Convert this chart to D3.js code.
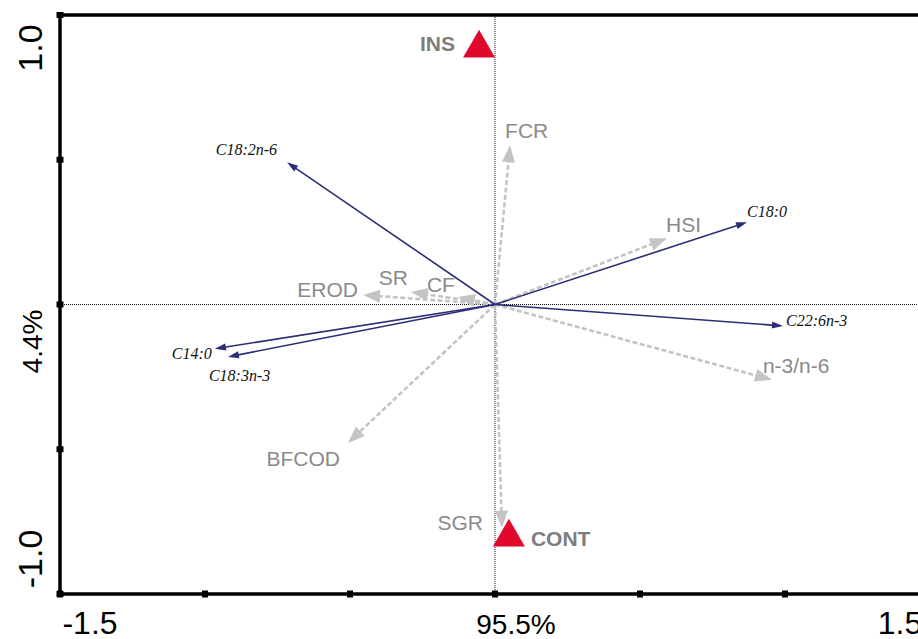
<!DOCTYPE html>
<html>
<head>
<meta charset="utf-8">
<script src="https://cdn.jsdelivr.net/npm/d3@7"></script>
<style>
  html, body { margin: 0; padding: 0; background: #fff; }
  svg { display: block; }
</style>
</head>
<body>
<svg id="chart" width="918" height="639"></svg>
<script>
// ---------------- DATA ----------------
// Fatty acid vectors (solid navy arrows)
const fattyNames = ["C18:2n-6", "C18:0", "C22:6n-3", "C14:0", "C18:3n-3"];
const fattyX     = [-0.717, 0.869, 0.993, -0.966, -0.921];
const fattyY     = [ 0.491, 0.284, -0.074, -0.153, -0.181];

// Response variables (dashed grey arrows)
const respNames = ["FCR", "HSI", "n-3/n-6", "EROD", "SR", "CF", "BFCOD", "SGR"];
const respX     = [0.052, 0.593, 0.955, -0.455, -0.290, -0.128, -0.507, 0.024];
const respY     = [0.550, 0.229, -0.260, 0.033, 0.043, 0.026, -0.478, -0.771];

// Treatments (red triangles)
const treatNames = ["INS", "CONT"];
const treatX     = [-0.055, 0.048];
const treatY     = [ 0.885, -0.804];

// Axes
const xDomain = [-1.5, 1.5];
const yDomain = [-1.0, 1.0];
const xTickValues = [-1.5, -1.0, -0.5, 0, 0.5, 1.0, 1.5];
const yTickValues = [-1.0, -0.5, 0, 0.5, 1.0];
const xLabelValues = [-1.5, 0, 1.5];
const xLabelTexts  = ["-1.5", "95.5%", "1.5"];
const yLabelValues = [1.0, 0, -1.0];
const yLabelTexts  = ["1.0", "4.4%", "-1.0"];

// ---------------- LAYOUT ----------------
const svg = d3.select("#chart");
const x = d3.scaleLinear().domain(xDomain).range([60, 930]);
const y = d3.scaleLinear().domain(yDomain).range([594, 15]);

const NAVY = "#2b2e74";
const GREY_ARROW = "#c4c4c4";
const GREY_TEXT = "#8a8a8a";
const RED = "#e0082c";

// label placement relative to arrow tips (dx, dy, anchor)
const fattyLabelPos = {
  "C18:2n-6": [-10, -7, "end"],
  "C18:0":    [0, -5, "start"],
  "C22:6n-3": [3, 0, "start"],
  "C14:0":    [-3, 10, "end"],
  "C18:3n-3": [-19, 24, "start"]
};
const respLabelPos = {
  "FCR":     [-5, -7, "start"],
  "HSI":     [-1, -6, "start"],
  "n-3/n-6": [-9, -7, "start"],
  "EROD":    [-5, 2, "end"],
  "SR":      [-3, -7, "end"],
  "CF":      [-3, -5, "end"],
  "BFCOD":   [-8, 23, "end"],
  "SGR":     [-19, 2, "end"]
};
const treatLabelPos = {
  "INS":  [-24, 3, "end"],
  "CONT": [22, 9, "start"]
};

// ---------------- REFERENCE LINES ----------------
svg.append("line")
  .attr("x1", x(0)).attr("x2", x(0))
  .attr("y1", y(yDomain[1])).attr("y2", y(yDomain[0]))
  .attr("stroke", "#111").attr("stroke-width", 1).attr("stroke-dasharray", "1,1");
svg.append("line")
  .attr("x1", x(xDomain[0])).attr("x2", x(xDomain[1]))
  .attr("y1", y(0)).attr("y2", y(0))
  .attr("stroke", "#111").attr("stroke-width", 1).attr("stroke-dasharray", "1,1");

// ---------------- ARROWS ----------------
function headPath(x0, y0, x1, y1, len, half) {
  const a = Math.atan2(y1 - y0, x1 - x0);
  const bx = x1 - len * Math.cos(a), by = y1 - len * Math.sin(a);
  const px = -Math.sin(a) * half, py = Math.cos(a) * half;
  return `M${x1},${y1}L${bx + px},${by + py}L${bx - px},${by - py}Z`;
}

const resp = respNames.map((n, i) => ({ name: n, vx: respX[i], vy: respY[i] }));
const fatty = fattyNames.map((n, i) => ({ name: n, vx: fattyX[i], vy: fattyY[i] }));
const treat = treatNames.map((n, i) => ({ name: n, vx: treatX[i], vy: treatY[i] }));

// grey dashed arrows
const gResp = svg.append("g");
resp.forEach(d => {
  const x0 = x(0), y0 = y(0), x1 = x(d.vx), y1 = y(d.vy);
  const a = Math.atan2(y1 - y0, x1 - x0);
  const L = 14;
  gResp.append("line")
    .attr("x1", x0).attr("y1", y0)
    .attr("x2", x1 - L * Math.cos(a)).attr("y2", y1 - L * Math.sin(a))
    .attr("stroke", GREY_ARROW).attr("stroke-width", 2.6)
    .attr("stroke-dasharray", "5,2.5");
  gResp.append("path")
    .attr("d", headPath(x0, y0, x1, y1, 17, 6.5))
    .attr("fill", GREY_ARROW);
});

// navy solid arrows
const gFatty = svg.append("g");
fatty.forEach(d => {
  const x0 = x(0), y0 = y(0), x1 = x(d.vx), y1 = y(d.vy);
  const a = Math.atan2(y1 - y0, x1 - x0);
  gFatty.append("line")
    .attr("x1", x0).attr("y1", y0)
    .attr("x2", x1 - 8 * Math.cos(a)).attr("y2", y1 - 8 * Math.sin(a))
    .attr("stroke", NAVY).attr("stroke-width", 1.6);
  gFatty.append("path")
    .attr("d", headPath(x0, y0, x1, y1, 11, 3.5))
    .attr("fill", NAVY);
});

// ---------------- LABELS ----------------
svg.append("g").selectAll("text").data(resp).join("text")
  .attr("x", d => x(d.vx) + respLabelPos[d.name][0])
  .attr("y", d => y(d.vy) + respLabelPos[d.name][1])
  .attr("text-anchor", d => respLabelPos[d.name][2])
  .attr("font-family", "'Liberation Sans', Arial, sans-serif")
  .attr("font-size", 21)
  .attr("fill", GREY_TEXT)
  .text(d => d.name);

svg.append("g").selectAll("text").data(fatty).join("text")
  .attr("x", d => x(d.vx) + fattyLabelPos[d.name][0])
  .attr("y", d => y(d.vy) + fattyLabelPos[d.name][1])
  .attr("text-anchor", d => fattyLabelPos[d.name][2])
  .attr("font-family", "'Liberation Serif', 'Times New Roman', serif")
  .attr("font-style", "italic")
  .attr("font-size", 16)
  .attr("fill", "#111")
  .text(d => d.name);

// ---------------- TREATMENTS ----------------
const tri = d3.symbol().type(d3.symbolTriangle).size(443);
svg.append("g").selectAll("path").data(treat).join("path")
  .attr("transform", d => `translate(${x(d.vx)},${y(d.vy)})`)
  .attr("d", tri)
  .attr("fill", RED);

svg.append("g").selectAll("text").data(treat).join("text")
  .attr("x", d => x(d.vx) + treatLabelPos[d.name][0])
  .attr("y", d => y(d.vy) + treatLabelPos[d.name][1])
  .attr("text-anchor", d => treatLabelPos[d.name][2])
  .attr("font-family", "'Liberation Sans', Arial, sans-serif")
  .attr("font-weight", "bold")
  .attr("font-size", 21)
  .attr("fill", "#7d7d7d")
  .text(d => d.name);

// ---------------- FRAME & TICKS ----------------
svg.append("rect")
  .attr("x", x(xDomain[0])).attr("y", y(yDomain[1]))
  .attr("width", x(xDomain[1]) - x(xDomain[0]))
  .attr("height", y(yDomain[0]) - y(yDomain[1]))
  .attr("fill", "none").attr("stroke", "#000").attr("stroke-width", 3.5);

svg.append("g").selectAll("rect").data(xTickValues).join("rect")
  .attr("x", d => x(d) - 3).attr("y", y(yDomain[0]) - 3.5)
  .attr("width", 6).attr("height", 7).attr("fill", "#000");
svg.append("g").selectAll("rect").data(yTickValues).join("rect")
  .attr("x", x(xDomain[0]) - 3.5).attr("y", d => y(d) - 3)
  .attr("width", 7).attr("height", 6).attr("fill", "#000");

// axis labels
const xLab = xLabelValues.map((v, i) => ({ v, t: xLabelTexts[i] }));
svg.append("g").selectAll("text").data(xLab).join("text")
  .attr("x", d => d.v === 0 ? x(d.v) + 21 : (d.v < 0 ? x(d.v) + 30 : x(d.v) - 30))
  .attr("y", 634)
  .attr("text-anchor", "middle")
  .attr("font-family", "'Liberation Sans', Arial, sans-serif")
  .attr("font-size", d => d.v === 0 ? 28 : 32)
  .attr("fill", "#000")
  .text(d => d.t);

const yLab = yLabelValues.map((v, i) => ({ v, t: yLabelTexts[i] }));
const yLabCenter = v => v === 0 ? y(v) + 37 : (v > 0 ? y(v) + 33 : y(v) - 35);
svg.append("g").selectAll("text").data(yLab).join("text")
  .attr("transform", d => `translate(42,${yLabCenter(d.v)}) rotate(-90)`)
  .attr("text-anchor", "middle")
  .attr("font-family", "'Liberation Sans', Arial, sans-serif")
  .attr("font-size", d => d.v === 0 ? 28 : 34)
  .attr("fill", "#000")
  .text(d => d.t);
</script>
</body>
</html>
